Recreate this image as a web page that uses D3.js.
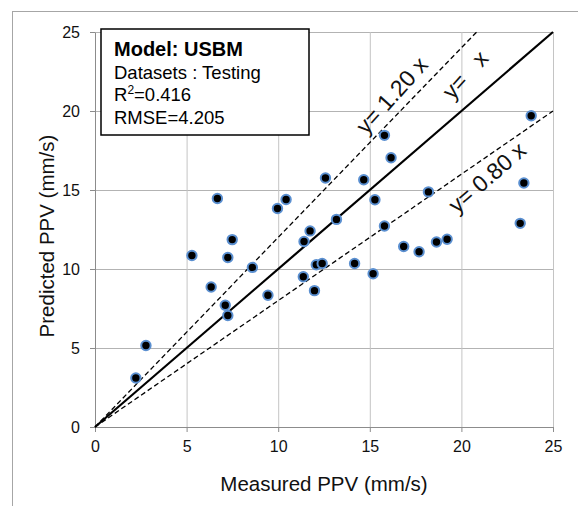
<!DOCTYPE html>
<html>
<head>
<meta charset="utf-8">
<script src="https://cdn.jsdelivr.net/npm/d3@7"></script>
<style>
  body { margin: 0; background: #fff; }
  text { font-family: "Liberation Sans", Arial, sans-serif; }
</style>
</head>
<body>
<div id="chart"></div>
<script>
// Measured vs predicted PPV (testing set)
const measured = [2.23, 2.78, 5.29, 6.34, 6.68, 7.11, 7.25, 7.25, 7.49, 8.59,
    9.44, 9.96, 10.43, 11.37, 11.41, 11.74, 11.98, 12.08, 12.40, 12.58,
    13.18, 14.17, 14.67, 15.18, 15.28, 15.80, 15.80, 16.16, 16.85, 17.69,
    18.20, 18.64, 19.22, 23.21, 23.41, 23.81];
const predicted = [3.10, 5.16, 10.85, 8.86, 14.46, 7.71, 7.06, 10.73, 11.86, 10.10,
    8.34, 13.83, 14.40, 9.51, 11.74, 12.41, 8.63, 10.27, 10.35, 15.76,
    13.14, 10.35, 15.65, 9.70, 14.38, 18.46, 12.72, 17.04, 11.42, 11.09,
    14.88, 11.71, 11.88, 12.89, 15.44, 19.70];
const ticks = [0, 5, 10, 15, 20, 25];
const refSlopes = [1.0, 1.2, 0.8];
const refLabels = ['y=   x', 'y= 1.20 x', 'y= 0.80 x'];
const infoLines = ['Model: USBM', 'Datasets : Testing', 'R²=0.416', 'RMSE=4.205'];

const W = 578, H = 506;
const margin = { top: 32, right: 25, bottom: 79, left: 95 };
const width = W - margin.left - margin.right;
const height = H - margin.top - margin.bottom;

const svg = d3.select('#chart').append('svg')
    .attr('width', W)
    .attr('height', H);

// outer frame
svg.append('rect')
    .attr('x', 12.5).attr('y', 11.5)
    .attr('width', W).attr('height', H)
    .attr('fill', 'none')
    .attr('stroke', '#a6a6a6')
    .attr('stroke-width', 1);

const g = svg.append('g')
    .attr('transform', `translate(${margin.left},${margin.top})`);

const x = d3.scaleLinear().domain([0, 25]).range([0, width]);
const y = d3.scaleLinear().domain([0, 25]).range([height, 0]);

// grid
g.append('g')
    .attr('class', 'grid')
    .call(d3.axisLeft(y).tickValues(ticks).tickSize(-width).tickFormat(''))
    .call(s => s.select('.domain').remove())
    .call(s => s.selectAll('line').attr('stroke', '#b3b3b3'));
g.append('g')
    .attr('class', 'grid')
    .attr('transform', `translate(0,${height})`)
    .call(d3.axisBottom(x).tickValues(ticks).tickSize(-height).tickFormat(''))
    .call(s => s.select('.domain').remove())
    .call(s => s.selectAll('line').attr('stroke', '#c4c4c4'));

// axes
const xAxis = g.append('g')
    .attr('transform', `translate(0,${height})`)
    .call(d3.axisBottom(x).tickValues(ticks).tickSize(5).tickPadding(9).tickSizeOuter(0));
const yAxis = g.append('g')
    .call(d3.axisLeft(y).tickValues(ticks).tickSize(5).tickPadding(10).tickSizeOuter(0));
[xAxis, yAxis].forEach(a => {
    a.select('.domain').attr('stroke', '#8c8c8c');
    a.selectAll('.tick line').attr('stroke', '#8c8c8c');
    a.selectAll('.tick text')
        .style('font-size', '16px')
        .attr('fill', '#111');
});

// reference lines
const line = d3.line().x(d => x(d[0])).y(d => y(d[1]));
refSlopes.forEach(k => {
    const xEnd = Math.min(25, 25 / k);
    g.append('path')
        .attr('d', line([[0, 0], [xEnd, k * xEnd]]))
        .attr('fill', 'none')
        .attr('stroke', '#000')
        .attr('stroke-width', k === 1 ? 2.2 : 1.3)
        .attr('stroke-dasharray', k === 1 ? null : '5,3');
});

// line labels
const labelPos = [[20.2, 22.3, -48], [16.2, 21.0, -48], [21.4, 15.8, -41]];
refLabels.forEach((t, i) => {
    const p = labelPos[i];
    g.append('text')
        .attr('transform', `translate(${x(p[0])},${y(p[1])}) rotate(${p[2]})`)
        .attr('text-anchor', 'middle')
        .attr('dy', '0.35em')
        .style('font-size', '23px')
        .style('white-space', 'pre')
        .attr('fill', '#111')
        .text(t);
});

// points
g.selectAll('.pt')
    .data(measured.map((m, i) => [m, predicted[i]]))
    .enter()
    .append('circle')
    .attr('class', 'pt')
    .attr('cx', d => x(d[0]))
    .attr('cy', d => y(d[1]))
    .attr('r', 4.7)
    .attr('fill', '#000')
    .attr('stroke', '#5a8fd0')
    .attr('stroke-width', 2);

// info box
const box = g.append('g').attr('transform', 'translate(6,-3)');
box.append('rect')
    .attr('width', 208).attr('height', 106)
    .attr('fill', '#fff')
    .attr('stroke', '#000')
    .attr('stroke-width', 1.5);
infoLines.forEach((t, i) => {
    const txt = box.append('text')
        .attr('x', 13)
        .attr('y', 27 + i * 22.7)
        .style('font-size', i === 0 ? '20px' : '18.5px')
        .style('font-weight', i === 0 ? 'bold' : 'normal')
        .attr('fill', '#000');
    if (t.startsWith('R²')) {
        txt.append('tspan').text('R');
        txt.append('tspan').attr('dy', -7).style('font-size', '12px').text('2');
        txt.append('tspan').attr('dy', 7).text(t.slice(2));
    } else {
        txt.text(t);
    }
});

// axis titles
svg.append('text')
    .attr('x', margin.left + width / 2)
    .attr('y', 491)
    .attr('text-anchor', 'middle')
    .style('font-size', '20.5px')
    .attr('fill', '#111')
    .text('Measured PPV (mm/s)');
svg.append('text')
    .attr('transform', `translate(54,236) rotate(-90)`)
    .attr('text-anchor', 'middle')
    .style('font-size', '20.5px')
    .attr('fill', '#111')
    .text('Predicted PPV (mm/s)');
</script>
</body>
</html>
